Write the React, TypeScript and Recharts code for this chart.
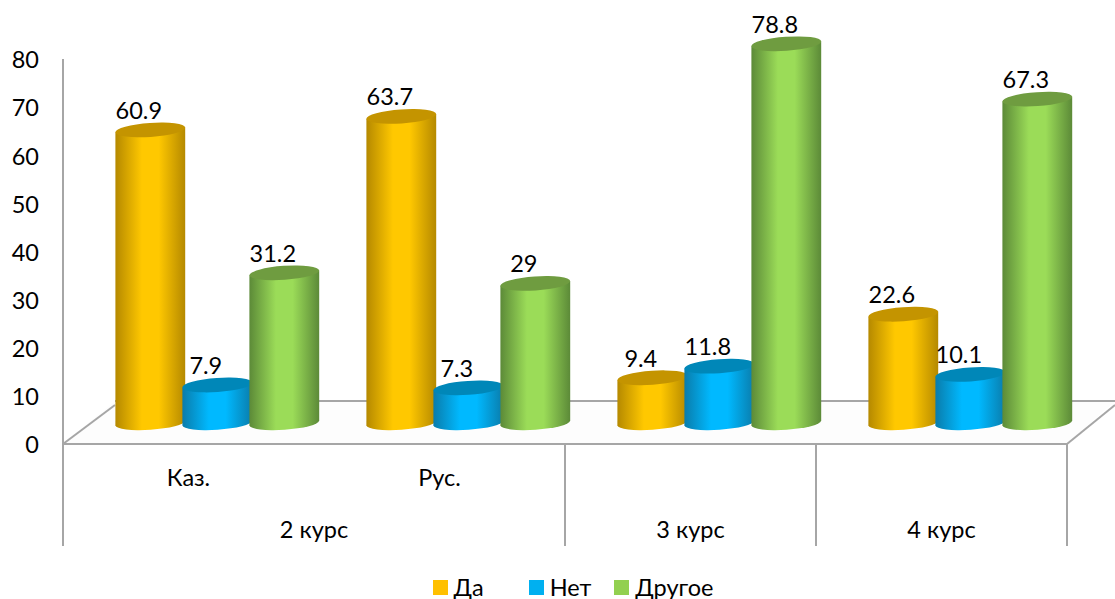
import { BarChart, Bar, XAxis, YAxis, Legend, LabelList, usePlotArea } from 'recharts';

const categories = ['Каз.', 'Рус.', '', ''];
const groups = ['2 курс', '', '3 курс', '4 курс'];
const yesValues = [60.9, 63.7, 9.4, 22.6];
const noValues = [7.9, 7.3, 11.8, 10.1];
const otherValues = [31.2, 29, 78.8, 67.3];
const yTicks = [0, 10, 20, 30, 40, 50, 60, 70, 80];

const chartData = categories.map((category, i) => ({
  category,
  group: groups[i],
  yes: yesValues[i],
  no: noValues[i],
  other: otherValues[i],
}));

const FONT = 'Lato, "Open Sans", sans-serif';
const FONT_SIZE = 23.5;
const AXIS_COLOR = '#a6a6a6';
const CATEGORY_STEP = 251;
// fake 3D: the bars stand on a floor that is shifted from the axis
const SHIFT_X = 28.3;
const SHIFT_Y = 21;

const palette: Record<string, { id: string; edge: string; mid: string; top: string }> = {
  '#FFC000': { id: 'cylYes', edge: '#b58900', mid: '#ffc800', top: '#c49400' },
  '#00B0F0': { id: 'cylNo', edge: '#0a7cab', mid: '#00b9ff', top: '#0087b8' },
  '#92D050': { id: 'cylOther', edge: '#5c8a38', mid: '#9bdc58', top: '#6f9c40' },
};

function Cylinder(props: any) {
  const { x, y, width, height, fill } = props;
  const colors = palette[fill];
  const cx = x + width / 2 + SHIFT_X;
  const top = y - SHIFT_Y;
  const base = y + height - SHIFT_Y;
  const rx = width / 2;
  const ry = 7;
  const tilt = 2.4;
  const left = cx - rx + 0.1;
  const right = cx + rx - 0.1;
  const body = `M${left} ${top + tilt} L${left} ${base + tilt} A${rx} ${ry} -4 0 0 ${right} ${base - tilt} L${right} ${top - tilt} Z`;
  return (
    <g>
      <path d={body} fill={`url(#${colors.id})`} />
      <ellipse cx={cx} cy={top} rx={rx} ry={ry} fill={colors.top} transform={`rotate(-4 ${cx} ${top})`} />
    </g>
  );
}

function BarValue(props: any) {
  const { x, y, width, value } = props;
  return (
    <text x={x + width / 2 + SHIFT_X - 11.5} y={y - 32} textAnchor="middle" fontSize={FONT_SIZE} fontFamily={FONT} fill="#000">
      {value}
    </text>
  );
}

function Floor() {
  const plot = usePlotArea();
  if (!plot) return null;
  const right = plot.x + plot.width;
  const bottom = plot.y + plot.height;
  return (
    <g>
      <polygon
        points={`${plot.x},${bottom} ${plot.x + 52},${bottom - 43} ${right + 48},${bottom - 43} ${right},${bottom}`}
        fill="#fdfdfd"
      />
      <line x1={plot.x + 52} y1={bottom - 43} x2={right + 48} y2={bottom - 43} stroke={AXIS_COLOR} strokeWidth={2} />
      <line x1={plot.x} y1={bottom} x2={plot.x + 52} y2={bottom - 39} stroke={AXIS_COLOR} strokeWidth={2} />
      <line x1={right} y1={bottom} x2={right + 48} y2={bottom - 39} stroke={AXIS_COLOR} strokeWidth={2} />
    </g>
  );
}

function CategoryTick(props: any) {
  const { x, y, payload } = props;
  const i = payload.index;
  const half = CATEGORY_STEP / 2;
  const groupX = i === 0 ? x + half : x;
  return (
    <g>
      <text x={x} y={y + 42} textAnchor="middle" fontSize={FONT_SIZE} fontFamily={FONT} fill="#000">
        {categories[i]}
      </text>
      <text x={groupX} y={y + 94} textAnchor="middle" fontSize={FONT_SIZE} fontFamily={FONT} fill="#000">
        {groups[i]}
      </text>
      {i !== 1 && <line x1={x - half} y1={y} x2={x - half} y2={y + 102} stroke={AXIS_COLOR} strokeWidth={2} />}
      {i === 3 && <line x1={x + half} y1={y} x2={x + half} y2={y + 102} stroke={AXIS_COLOR} strokeWidth={2} />}
    </g>
  );
}

function ChartLegend({ payload }: any) {
  const gaps = [45, 23, 0];
  return (
    <div style={{ display: 'flex', justifyContent: 'center', fontFamily: FONT, fontSize: FONT_SIZE, color: '#000', lineHeight: '30px', marginTop: 3, paddingLeft: 79 }}>
      {(payload || []).map((item: any, i: number) => (
        <span key={item.value} style={{ display: 'flex', alignItems: 'center', marginRight: gaps[i] }}>
          <span style={{ width: 15, height: 15, background: item.color, marginRight: 6 }} />
          {item.value}
        </span>
      ))}
    </div>
  );
}

export default function App() {
  return (
    <div style={{ position: 'absolute', left: 0, top: 0, width: 1115, height: 599, background: '#fff' }}>
      <BarChart
        width={1115}
        height={599}
        data={chartData}
        margin={{ top: 59, right: 48, bottom: 0, left: 0 }}
        barSize={70}
        barGap={-3}
      >
        <defs>
          {Object.values(palette).map(c => (
            <linearGradient key={c.id} id={c.id} x1="0" y1="0" x2="1" y2="0">
              <stop offset="0%" stopColor={c.edge} />
              <stop offset="38%" stopColor={c.mid} />
              <stop offset="62%" stopColor={c.mid} />
              <stop offset="100%" stopColor={c.edge} />
            </linearGradient>
          ))}
        </defs>
        <Floor />
        <XAxis
          dataKey="category"
          height={125}
          interval={0}
          allowDuplicatedCategory
          tickLine={false}
          tickSize={0}
          tickMargin={0}
          axisLine={{ stroke: AXIS_COLOR, strokeWidth: 2 }}
          tick={<CategoryTick />}
        />
        <YAxis
          width={63}
          domain={[0, 80]}
          ticks={yTicks}
          interval={0}
          tickLine={false}
          tickSize={0}
          tickMargin={24}
          axisLine={{ stroke: AXIS_COLOR, strokeWidth: 2 }}
          tick={{ fontSize: FONT_SIZE, fontFamily: FONT, fill: '#000', dy: 1 }}
        />
        <Legend verticalAlign="bottom" height={30} itemSorter={null} content={<ChartLegend />} />
        <Bar dataKey="yes" name="Да" fill="#FFC000" shape={<Cylinder />} isAnimationActive={false}>
          <LabelList dataKey="yes" content={<BarValue />} />
        </Bar>
        <Bar dataKey="no" name="Нет" fill="#00B0F0" shape={<Cylinder />} isAnimationActive={false}>
          <LabelList dataKey="no" content={<BarValue />} />
        </Bar>
        <Bar dataKey="other" name="Другое" fill="#92D050" shape={<Cylinder />} isAnimationActive={false}>
          <LabelList dataKey="other" content={<BarValue />} />
        </Bar>
      </BarChart>
    </div>
  );
}
